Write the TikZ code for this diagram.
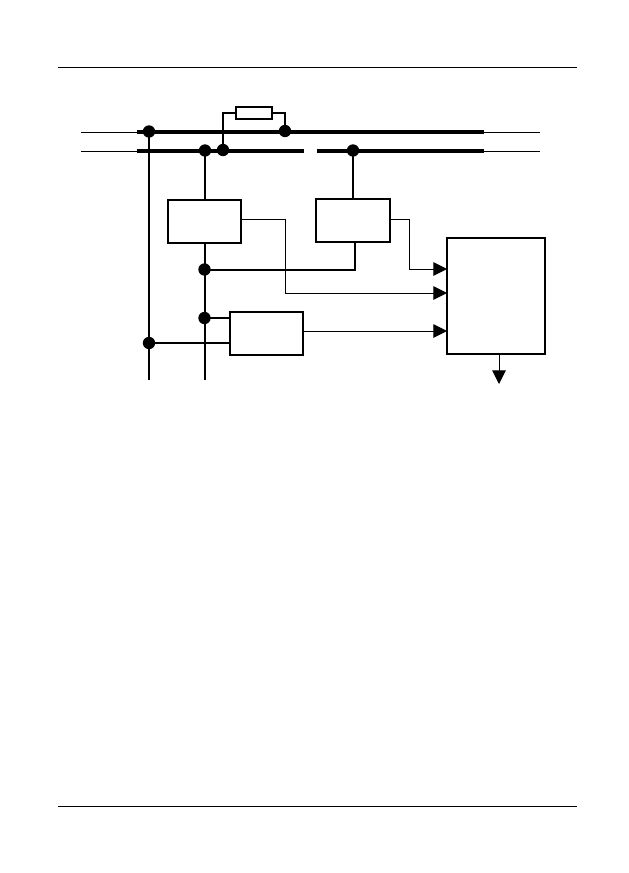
\documentclass[tikz,border=0pt]{standalone}
\usepackage{tikz}
\usetikzlibrary{arrows.meta, calc}

\begin{document}
\begin{tikzpicture}[
  x=0.03cm, y=-0.03cm,
  block/.style={draw, line width=0.06cm, inner sep=0pt, outer sep=0pt},
  joint/.style={circle, fill=black, inner sep=0pt, minimum size=0.37cm},
  rail/.style={line width=0.125cm},
  feed/.style={line width=0.03cm},
  wire/.style={line width=0.06cm},
  signal/.style={line width=0.03cm, -{Triangle[length=0.41cm, width=0.41cm]}},
]
\useasboundingbox (0,0) rectangle (629,873);

%% --- Page rules ---
\coordinate (ruleTL) at (58,67.5);
\coordinate (ruleTR) at (577,67.5);
\coordinate (ruleBL) at (58,806.5);
\coordinate (ruleBR) at (577,806.5);
\draw[feed] (ruleTL) -- (ruleTR);
\draw[feed] (ruleBL) -- (ruleBR);

%% --- Busbars ---
\coordinate (busAL) at (137,131.7);
\coordinate (busAR) at (484,131.7);
\coordinate (busBL) at (137,150.8);
\coordinate (busBM) at (304,150.8);
\coordinate (busCM) at (317,150.8);
\coordinate (busCR) at (484,150.8);
\coordinate (feedAL) at (81,133);
\coordinate (feedAR) at (540,133);
\coordinate (feedBL) at (81,151.2);
\coordinate (feedBR) at (540,151.2);

\draw[rail] (busAL) -- (busAR);
\draw[rail] (busBL) -- (busBM);
\draw[rail] (busCM) -- (busCR);
\draw[feed] (feedAL) -- (busAL |- feedAL);
\draw[feed] (busAR |- feedAR) -- (feedAR);
\draw[feed] (feedBL) -- (busBL |- feedBL);
\draw[feed] (busCR |- feedBR) -- (feedBR);

%% --- Blocks ---
\node[block, minimum width=2.19cm, minimum height=1.29cm] (blockA) at (204.5,221.5) {};
\node[block, minimum width=2.22cm, minimum height=1.29cm] (blockB) at (353,220.5) {};
\node[block, minimum width=2.19cm, minimum height=1.29cm] (blockC) at (266.5,333.5) {};
\node[block, minimum width=2.94cm, minimum height=3.48cm] (blockD) at (496,296) {};
\node[block, line width=0.045cm, minimum width=1.08cm, minimum height=0.36cm] (shunt) at (254,113) {};

%% --- Joints ---
\node[joint] (jA) at (149,131.5) {};
\node[joint] (jB) at (205,150.5) {};
\node[joint] (jC) at (223,150) {};
\node[joint] (jD) at (285,131) {};
\node[joint] (jE) at (353,150.5) {};
\node[joint] (jF) at (204.5,269.5) {};
\node[joint] (jG) at (204.5,318) {};
\node[joint] (jH) at (149,343) {};

\coordinate (endA) at (149,380);
\coordinate (endB) at (205,380);
\coordinate (outD) at (499,384);
\coordinate (elbowB) at (355,242);

%% --- Power wiring ---
\draw[wire] (jA.center) -- (endA);
\draw[wire] (jB.center) -- (blockA.north -| jB);
\draw[wire] (blockA.south -| jB) -- (endB);
\draw[wire] (jE.center) -- (blockB.north -| jE);
\draw[wire] (jF.center) -| (elbowB);
\draw[wire] (jG.center) -- (jG -| blockC.west);
\draw[wire] (jH.center) -- (jH -| blockC.west);
\draw[line width=0.045cm] (jC.center) |- (shunt.west);
\draw[line width=0.045cm] (shunt.east) -| (jD.center);

%% --- Signals ---
\coordinate (tapA) at (blockA.east |- 0,219);
\coordinate (tapB) at (blockB.east |- 0,219);
\draw[signal] (tapA) -- (285,219) |- (blockD.west |- 0,293);
\draw[signal] (tapB) -- (409,219) |- (blockD.west |- 0,269);
\draw[signal] (blockC.east |- 0,331) -- (blockD.west |- 0,331);
\draw[signal] (blockD.south -| outD) -- (outD);

\end{tikzpicture}
\end{document}
